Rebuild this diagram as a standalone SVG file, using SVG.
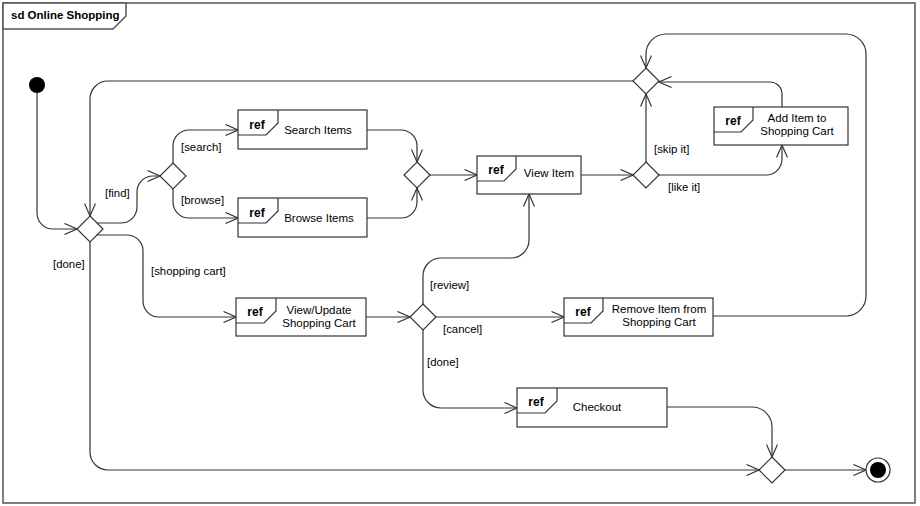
<svg xmlns="http://www.w3.org/2000/svg" width="920" height="506" viewBox="0 0 920 506">
<style>
text{font-family:"Liberation Sans",Arial,sans-serif;fill:#000}
.frame{fill:#fff;stroke:#555;stroke-width:1.5}
.box{fill:#fff;stroke:#333;stroke-width:1.2}
.tab{fill:none;stroke:#333;stroke-width:1.2}
.dia{fill:#fff;stroke:#333;stroke-width:1.2}
.edge{fill:none;stroke:#333;stroke-width:1.2;marker-end:url(#arr)}
.ref{font-size:12px;font-weight:bold;text-anchor:middle}
.lbl{font-size:11.5px;text-anchor:middle}
.g{font-size:11.4px}
</style>
<defs>
<marker id="arr" markerUnits="userSpaceOnUse" viewBox="0 0 14 12" markerWidth="14" markerHeight="12" refX="13" refY="6" orient="auto">
<path d="M0.5,0.5 L13,6 L0.5,11.5" fill="none" stroke="#333" stroke-width="1.2"/>
</marker>
</defs>
<rect class="frame" x="3" y="3" width="912" height="500"/>
<g id="title">
<path d="M3,3 H126 V16 L113,29 H3 Z" fill="#fff" stroke="#555" stroke-width="1.5"/>
<text x="11" y="19" font-size="11.5" font-weight="bold">sd Online Shopping</text>
</g>
<g id="connectors">
<path class="edge" d="M37,93 V213 A16,16 0 0 0 53,229 H77"/>
<path class="edge" d="M633,81 H108 A18,18 0 0 0 90,99 V216"/>
<path class="edge" d="M97,223 H121 A16,16 0 0 0 137,207 V192 A16,16 0 0 1 153,176 H160"/>
<path class="edge" d="M97,235 H127 A16,16 0 0 1 143,251 V301 A16,16 0 0 0 159,317 H236"/>
<path class="edge" d="M90,242 V452 A18,18 0 0 0 108,470 H759"/>
<path class="edge" d="M173,163 V146 A16,16 0 0 1 189,130 H238"/>
<path class="edge" d="M173,189 V202 A16,16 0 0 0 189,218 H238"/>
<path class="edge" d="M367,130 H401 A16,16 0 0 1 417,146 V162"/>
<path class="edge" d="M367,218 H401 A16,16 0 0 0 417,202 V188"/>
<path class="edge" d="M430,175 H477"/>
<path class="edge" d="M581,175 H633"/>
<path class="edge" d="M646,162 V94"/>
<path class="edge" d="M659,175 H766 A16,16 0 0 0 782,159 V145"/>
<path class="edge" d="M782,107 V94 A12,12 0 0 0 770,82 H659"/>
<path class="edge" d="M713,316 H846 A20,20 0 0 0 866,296 V54 A20,20 0 0 0 846,34 H666 A20,20 0 0 0 646,54 V68"/>
<path class="edge" d="M366,317 H410"/>
<path class="edge" d="M423,304 V276 A18,18 0 0 1 441,258 H511 A18,18 0 0 0 529,240 V194"/>
<path class="edge" d="M436,317 H564"/>
<path class="edge" d="M423,330 V390 A18,18 0 0 0 441,408 H517"/>
<path class="edge" d="M667,407 H752 A20,20 0 0 1 772,427 V457"/>
<path class="edge" d="M785,470 H866"/>
<text class="g" x="105" y="197">[find]</text>
<text class="g" x="53" y="268">[done]</text>
<text class="g" x="151" y="275">[shopping cart]</text>
<text class="g" x="181" y="151">[search]</text>
<text class="g" x="181" y="204">[browse]</text>
<text class="g" x="654" y="153">[skip it]</text>
<text class="g" x="668" y="191">[like it]</text>
<text class="g" x="430" y="289">[review]</text>
<text class="g" x="443" y="333">[cancel]</text>
<text class="g" x="427" y="366">[done]</text>
</g>
<g id="initial"><circle cx="37" cy="85" r="8" fill="#000"/></g>
<g id="final"><circle cx="878" cy="470" r="12" fill="#fff" stroke="#333" stroke-width="1.2"/><circle cx="878" cy="470" r="8" fill="#000"/></g>
<g id="d1"><path class="dia" d="M90,216 L103,229 L90,242 L77,229 Z"/></g>
<g id="d2"><path class="dia" d="M173,163 L186,176 L173,189 L160,176 Z"/></g>
<g id="d3"><path class="dia" d="M417,162 L430,175 L417,188 L404,175 Z"/></g>
<g id="d4"><path class="dia" d="M423,304 L436,317 L423,330 L410,317 Z"/></g>
<g id="d5"><path class="dia" d="M646,162 L659,175 L646,188 L633,175 Z"/></g>
<g id="merge"><path class="dia" d="M646,68 L659,81 L646,94 L633,81 Z"/></g>
<g id="dfinal"><path class="dia" d="M772,457 L785,470 L772,483 L759,470 Z"/></g>
<g id="search">
<rect class="box" x="238" y="110" width="129" height="39"/>
<path class="tab" d="M238,135 H266 L278,123 V110"/>
<text class="ref" x="257" y="129">ref</text>
<text class="lbl" x="318" y="134">Search Items</text>
</g>
<g id="browse">
<rect class="box" x="238" y="198" width="129" height="39"/>
<path class="tab" d="M238,223 H266 L278,211 V198"/>
<text class="ref" x="257" y="217">ref</text>
<text class="lbl" x="319" y="222">Browse Items</text>
</g>
<g id="viewitem">
<rect class="box" x="477" y="156" width="104" height="38"/>
<path class="tab" d="M477,181 H504 L516,169 V156"/>
<text class="ref" x="496" y="174">ref</text>
<text class="lbl" x="549" y="177">View Item</text>
</g>
<g id="additem">
<rect class="box" x="714" y="107" width="134" height="38"/>
<path class="tab" d="M714,132 H741 L753,120 V107"/>
<text class="ref" x="733" y="125">ref</text>
<text class="lbl" x="797" y="122">Add Item to</text>
<text class="lbl" x="797" y="135">Shopping Cart</text>
</g>
<g id="viewupdate">
<rect class="box" x="236" y="298" width="130" height="38"/>
<path class="tab" d="M236,323 H264 L276,311 V298"/>
<text class="ref" x="255" y="316">ref</text>
<text class="lbl" x="319" y="314">View/Update</text>
<text class="lbl" x="319" y="327">Shopping Cart</text>
</g>
<g id="remove">
<rect class="box" x="564" y="298" width="149" height="38"/>
<path class="tab" d="M564,323 H591 L603,311 V298"/>
<text class="ref" x="583" y="316">ref</text>
<text class="lbl" x="659" y="313">Remove Item from</text>
<text class="lbl" x="659" y="326">Shopping Cart</text>
</g>
<g id="checkout">
<rect class="box" x="517" y="388" width="150" height="39"/>
<path class="tab" d="M517,413 H545 L557,401 V388"/>
<text class="ref" x="536" y="406">ref</text>
<text class="lbl" x="597" y="411">Checkout</text>
</g>
</svg>
